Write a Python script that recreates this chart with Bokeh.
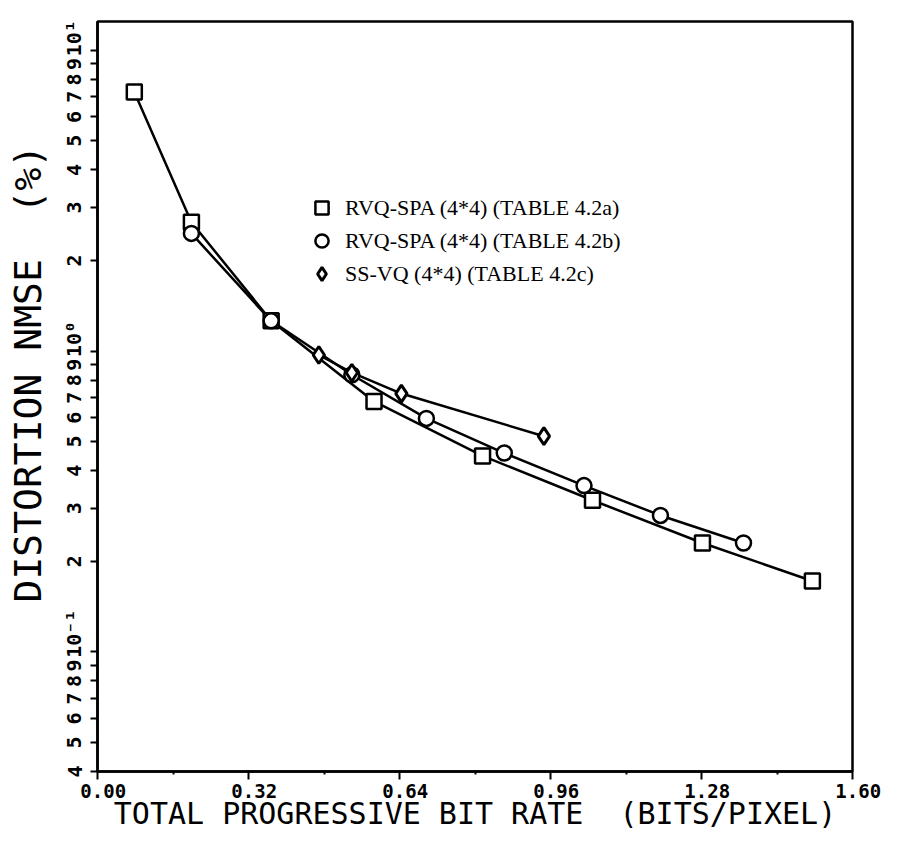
from bokeh.plotting import figure
from bokeh.models import Range1d, FixedTicker, Legend, LegendItem
from bokeh.embed import file_html
from bokeh.resources import INLINE

# ---- data ----
rate_a = [0.078, 0.199, 0.368, 0.586, 0.816, 1.049, 1.282, 1.515]
nmse_a = [7.27, 2.68, 1.26, 0.68, 0.448, 0.319, 0.230, 0.172]

rate_b = [0.199, 0.368, 0.539, 0.697, 0.862, 1.031, 1.193, 1.369]
nmse_b = [2.46, 1.26, 0.834, 0.597, 0.458, 0.357, 0.284, 0.230]

rate_c = [0.469, 0.539, 0.644, 0.946]
nmse_c = [0.97, 0.847, 0.722, 0.521]

series_labels = [
    "RVQ-SPA (4*4) (TABLE 4.2a)",
    "RVQ-SPA (4*4) (TABLE 4.2b)",
    "SS-VQ (4*4) (TABLE 4.2c)",
]

x_tick_values = [0.0, 0.32, 0.64, 0.96, 1.28, 1.60]
x_tick_labels = ["0.00", "0.32", "0.64", "0.96", "1.28", "1.60"]
x_minor_values = [0.16, 0.48, 0.80, 1.12, 1.44]

y_tick_values = [0.04, 0.05, 0.06, 0.07, 0.08, 0.09,
                 0.1, 0.2, 0.3, 0.4, 0.5, 0.6, 0.7, 0.8, 0.9,
                 1, 2, 3, 4, 5, 6, 7, 8, 9, 10]
y_tick_labels = ["4", "5", "6", "7", "8", "9",
                 "10\u207b\u00b9", "2", "3", "4", "5", "6", "7", "8", "9",
                 "10\u2070", "2", "3", "4", "5", "6", "7", "8", "9",
                 "10\u00b9"]

x_title = "TOTAL PROGRESSIVE BIT RATE \u00a0(BITS/PIXEL)"
y_title = "DISTORTION NMSE \u00a0(%)"

NBSP = "\u00a0"
MONO = "DejaVu Sans Mono"

W = 890
H = 834
B_LEFT = 97
B_TOP = 21
B_BOTTOM = 63
FRAME_W = 755

p = figure(width=W, height=H,
           x_range=Range1d(0, 1.6), y_range=Range1d(0.04, 12.46),
           y_axis_type="log",
           output_backend="svg", toolbar_location=None,
           min_border_left=B_LEFT, min_border_right=W - B_LEFT - FRAME_W,
           min_border_top=B_TOP, min_border_bottom=B_BOTTOM)

p.xgrid.visible = False
p.ygrid.visible = False
p.outline_line_color = "black"
p.outline_line_width = 2.5
p.background_fill_color = "white"
p.border_fill_color = "white"

# x axis
xa = p.xaxis[0]
xa.ticker = FixedTicker(ticks=x_tick_values, minor_ticks=x_minor_values)
xa.major_label_overrides = {v: NBSP + s for v, s in zip(x_tick_values, x_tick_labels)}
xa.axis_line_width = 2.5
xa.axis_line_color = "black"
xa.major_tick_line_width = 2
xa.major_tick_out = 8
xa.major_tick_in = 0
xa.minor_tick_out = 3
xa.minor_tick_in = 0
xa.minor_tick_line_width = 2
xa.major_label_text_font = MONO
xa.major_label_text_font_size = "19px"
xa.major_label_text_font_style = "bold"
xa.major_label_text_color = "black"
xa.major_label_standoff = 0
xa.axis_label = x_title
xa.axis_label_text_font = MONO
xa.axis_label_text_font_size = "30px"
xa.axis_label_text_font_style = "normal"
xa.axis_label_text_color = "black"
xa.axis_label_standoff = -9

# y axis
ya = p.yaxis[0]
ya.ticker = FixedTicker(ticks=y_tick_values, minor_ticks=[])


def pad(s):
    return NBSP * (len(s) - 1) + s if s.startswith("10") else s


ya.major_label_overrides = {v: pad(s) for v, s in zip(y_tick_values, y_tick_labels)}
ya.major_label_orientation = "parallel"
ya.axis_line_width = 2.5
ya.axis_line_color = "black"
ya.major_tick_line_width = 2
ya.major_tick_out = 7
ya.major_tick_in = 0
ya.minor_tick_out = 0
ya.minor_tick_in = 0
ya.major_label_text_font = MONO
ya.major_label_text_font_size = "20px"
ya.major_label_text_font_style = "bold"
ya.major_label_text_color = "black"
ya.major_label_standoff = 4
ya.axis_label = NBSP * 2 + y_title
ya.axis_label_text_font = MONO
ya.axis_label_text_font_size = "38px"
ya.axis_label_text_font_style = "normal"
ya.axis_label_text_color = "black"
ya.axis_label_standoff = 10

# series lines
for xs, ys in ((rate_a, nmse_a), (rate_b, nmse_b), (rate_c, nmse_c)):
    p.line(xs, ys, line_color="black", line_width=2.5)

ra = p.scatter(rate_a, nmse_a, marker="square", size=15,
               fill_color="white", line_color="black", line_width=2.5)
rb = p.scatter(rate_b, nmse_b, marker="circle", size=15,
               fill_color="white", line_color="black", line_width=2.5)
rc = p.scatter(rate_c, nmse_c, marker="diamond", size=17,
               fill_color="white", line_color="black", line_width=3)

legend = Legend(items=[LegendItem(label=series_labels[0], renderers=[ra]),
                       LegendItem(label=series_labels[1], renderers=[rb]),
                       LegendItem(label=series_labels[2], renderers=[rc])],
                location=(208, 481), orientation="vertical",
                glyph_width=33, glyph_height=33, label_height=33,
                spacing=0, padding=0, margin=0, label_standoff=7,
                border_line_alpha=0, background_fill_alpha=0,
                label_text_font="Liberation Serif", label_text_font_size="22px",
                label_text_color="black")
p.add_layout(legend)

open("out.html", "w").write(file_html(p, INLINE))
